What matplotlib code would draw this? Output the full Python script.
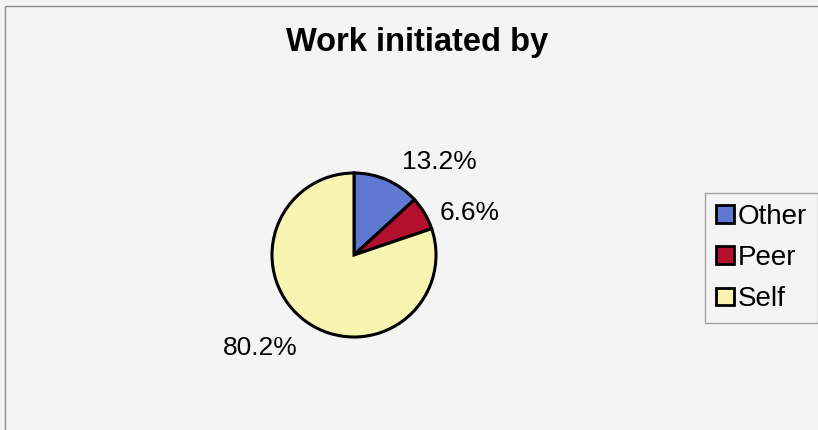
import matplotlib
matplotlib.use("Agg")
import matplotlib.pyplot as plt
from matplotlib.patches import Patch, Rectangle
import numpy as np

categories = ["Other", "Peer", "Self"]
shares = [13.2, 6.6, 80.2]
colors = ["#5f78d2", "#b3102e", "#f8f5b2"]

W, H = 818, 430
fig = plt.figure(figsize=(W / 100, H / 100), dpi=100, facecolor="#f4f4f4")
plt.rcParams["font.family"] = ["Liberation Sans", "DejaVu Sans"]

# outer chart-area border
fig.patches.append(Rectangle((5 / W, -0.05), 1.1, (H - 6) / H + 0.05,
                             transform=fig.transFigure, fill=False,
                             edgecolor="#8c8c8c", linewidth=1.0))

fig.text(417 / W, (H - 43) / H, "Work initiated by", ha="center", va="center",
         fontsize=23.5, fontweight="bold")

ax = fig.add_axes([272 / W, 93 / H, 164 / W, 164 / H])
ax.set_facecolor("none")
wedges, _ = ax.pie(shares, colors=colors, startangle=90, counterclock=False,
                   radius=1.0,
                   wedgeprops=dict(edgecolor="black", linewidth=2.2))
ax.set_xlim(-1, 1)
ax.set_ylim(-1, 1)
ax.set_aspect("equal")
ax.axis("off")

# percentage labels placed around each wedge
label_angle_shift = [-18.6, -10.7, -9.7]
label_radius = [1.54, 1.50, 1.61]
for w, val, dshift, rr in zip(wedges, shares, label_angle_shift, label_radius):
    mid = np.deg2rad((w.theta1 + w.theta2) / 2 + dshift)
    ax.text(rr * np.cos(mid), rr * np.sin(mid), f"{val:.1f}%",
            ha="center", va="center", fontsize=19)

handles = [Patch(facecolor=c, edgecolor="black", linewidth=2.0) for c in colors]
leg = fig.legend(handles, categories, loc="upper left",
                 bbox_to_anchor=(705 / W, (H - 193) / H),
                 fontsize=20, frameon=True, fancybox=False,
                 handlelength=0.65, handleheight=0.6, handletextpad=0.15,
                 labelspacing=0.55, borderpad=0.38, borderaxespad=0)
leg.get_frame().set_edgecolor("#8c8c8c")
leg.get_frame().set_facecolor("#f4f4f4")
leg.get_frame().set_linewidth(1.0)

fig.savefig("out.png", dpi=100, facecolor=fig.get_facecolor())
